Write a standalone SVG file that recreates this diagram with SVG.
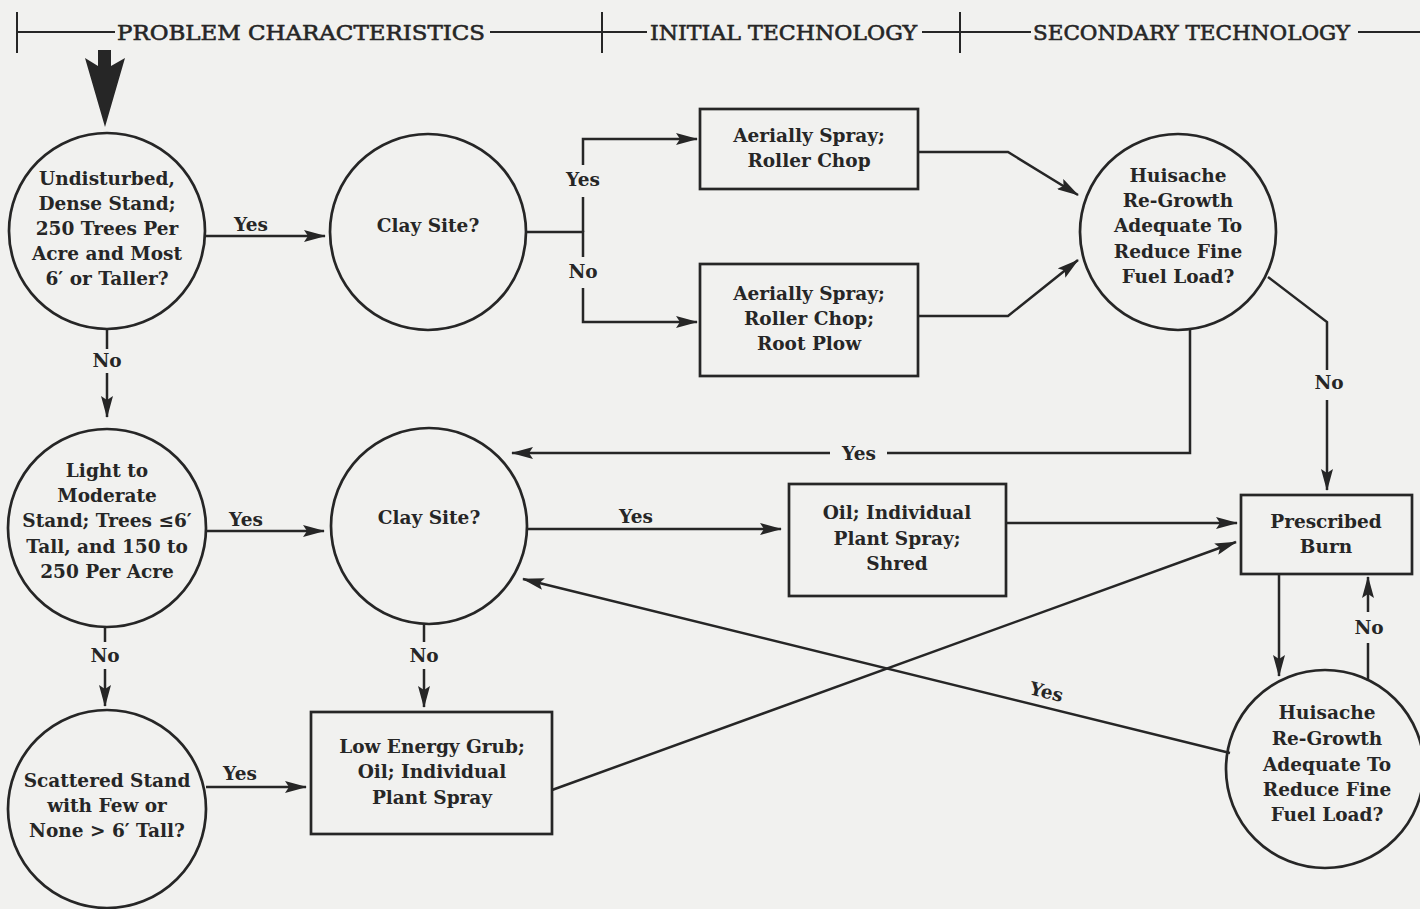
<svg xmlns="http://www.w3.org/2000/svg" width="1420" height="909" viewBox="0 0 1420 909">
<style>
.bg{fill:#f1f1ef}
.node{fill:none;stroke:#262626;stroke-width:2.7}
.ln{fill:none;stroke:#262626;stroke-width:2.5}
.hd{fill:none;stroke:#262626;stroke-width:2}
.t{font-family:"DejaVu Serif","Liberation Serif",serif;font-weight:bold;font-size:18.5px;fill:#262626;text-anchor:middle}
.h{font-family:"DejaVu Serif","Liberation Serif",serif;font-size:21px;fill:#262626;stroke:#262626;stroke-width:0.6;text-anchor:middle}
</style>
<defs>
<marker id="ah" viewBox="0 0 22 12" refX="21" refY="6" markerWidth="22" markerHeight="12" markerUnits="userSpaceOnUse" orient="auto">
<path d="M0,0 L22,6 L0,12 L4,6 Z" fill="#262626"/>
</marker>
</defs>
<rect class="bg" x="0" y="0" width="1420" height="909"/>

<g id="header">
<line class="hd" x1="17" y1="12" x2="17" y2="53"/>
<line class="hd" x1="17" y1="32" x2="115" y2="32"/>
<text class="h" x="301" y="40" textLength="368" lengthAdjust="spacingAndGlyphs">PROBLEM CHARACTERISTICS</text>
<line class="hd" x1="490" y1="32" x2="647" y2="32"/>
<line class="hd" x1="602" y1="12" x2="602" y2="53"/>
<text class="h" x="783.5" y="40" textLength="267" lengthAdjust="spacingAndGlyphs">INITIAL TECHNOLOGY</text>
<line class="hd" x1="922" y1="32" x2="1031" y2="32"/>
<line class="hd" x1="960" y1="12" x2="960" y2="53"/>
<text class="h" x="1191.5" y="40" textLength="317" lengthAdjust="spacingAndGlyphs">SECONDARY TECHNOLOGY</text>
<line class="hd" x1="1358" y1="32" x2="1420" y2="32"/>
</g>

<g id="start-arrow">
<polygon points="98,50 111,50 111,66 125,58 105,127 85,58 98,66" fill="#262626"/>
</g>

<g id="c1">
<circle class="node" cx="107" cy="231" r="98"/>
<text class="t" x="107" y="185">Undisturbed,</text>
<text class="t" x="107" y="210">Dense Stand;</text>
<text class="t" x="107" y="235">250 Trees Per</text>
<text class="t" x="107" y="260">Acre and Most</text>
<text class="t" x="107" y="285">6′ or Taller?</text>
</g>

<g id="c2">
<circle class="node" cx="107" cy="528" r="99"/>
<text class="t" x="107" y="477">Light to</text>
<text class="t" x="107" y="502">Moderate</text>
<text class="t" x="107" y="527">Stand; Trees ≤6′</text>
<text class="t" x="107" y="553">Tall, and 150 to</text>
<text class="t" x="107" y="578">250 Per Acre</text>
</g>

<g id="c3">
<circle class="node" cx="107" cy="809" r="99"/>
<text class="t" x="107" y="787">Scattered Stand</text>
<text class="t" x="107" y="812">with Few or</text>
<text class="t" x="107" y="837">None &gt; 6′ Tall?</text>
</g>

<g id="clay1">
<circle class="node" cx="428" cy="232" r="98"/>
<text class="t" x="428" y="232">Clay Site?</text>
</g>

<g id="clay2">
<circle class="node" cx="429" cy="526" r="98"/>
<text class="t" x="429" y="524">Clay Site?</text>
</g>

<g id="boxA">
<rect class="node" x="700" y="109" width="218" height="80"/>
<text class="t" x="809" y="142">Aerially Spray;</text>
<text class="t" x="809" y="167">Roller Chop</text>
</g>

<g id="boxB">
<rect class="node" x="700" y="264" width="218" height="112"/>
<text class="t" x="809" y="300">Aerially Spray;</text>
<text class="t" x="809" y="325">Roller Chop;</text>
<text class="t" x="809" y="350">Root Plow</text>
</g>

<g id="boxC">
<rect class="node" x="789" y="484" width="217" height="112"/>
<text class="t" x="897" y="519">Oil; Individual</text>
<text class="t" x="897" y="545">Plant Spray;</text>
<text class="t" x="897" y="570">Shred</text>
</g>

<g id="boxD">
<rect class="node" x="311" y="712" width="241" height="122"/>
<text class="t" x="432" y="753">Low Energy Grub;</text>
<text class="t" x="432" y="778">Oil; Individual</text>
<text class="t" x="432" y="804">Plant Spray</text>
</g>

<g id="h1">
<circle class="node" cx="1178" cy="232" r="98"/>
<text class="t" x="1178" y="182">Huisache</text>
<text class="t" x="1178" y="207">Re-Growth</text>
<text class="t" x="1178" y="232">Adequate To</text>
<text class="t" x="1178" y="258">Reduce Fine</text>
<text class="t" x="1178" y="283">Fuel Load?</text>
</g>

<g id="burn">
<rect class="node" x="1241" y="495" width="171" height="79"/>
<text class="t" x="1326" y="528">Prescribed</text>
<text class="t" x="1326" y="553">Burn</text>
</g>

<g id="h2">
<circle class="node" cx="1325" cy="769" r="99"/>
<text class="t" x="1327" y="719">Huisache</text>
<text class="t" x="1327" y="745">Re-Growth</text>
<text class="t" x="1327" y="771">Adequate To</text>
<text class="t" x="1327" y="796">Reduce Fine</text>
<text class="t" x="1327" y="821">Fuel Load?</text>
</g>

<g id="connectors">
<line class="ln" x1="205" y1="236" x2="325" y2="236" marker-end="url(#ah)"/>
<text class="t" x="251" y="231">Yes</text>
<line class="ln" x1="107" y1="329" x2="107" y2="349"/>
<text class="t" x="107" y="367">No</text>
<line class="ln" x1="107" y1="373" x2="107" y2="417" marker-end="url(#ah)"/>

<polyline class="ln" points="526,232 583,232 583,257"/>
<polyline class="ln" points="583,197 583,232"/>
<polyline class="ln" points="583,165 583,139 697,139" marker-end="url(#ah)"/>
<polyline class="ln" points="583,288 583,322 697,322" marker-end="url(#ah)"/>
<text class="t" x="583" y="186">Yes</text>
<text class="t" x="583" y="278">No</text>

<polyline class="ln" points="918,152 1008,152 1078,195" marker-end="url(#ah)"/>
<polyline class="ln" points="918,316 1008,316 1078,260" marker-end="url(#ah)"/>

<polyline class="ln" points="1268,277 1327,322 1327,370"/>
<text class="t" x="1329" y="389">No</text>
<line class="ln" x1="1327" y1="400" x2="1327" y2="490" marker-end="url(#ah)"/>

<polyline class="ln" points="1190,330 1190,453 887,453"/>
<text class="t" x="859" y="460">Yes</text>
<line class="ln" x1="830" y1="453" x2="512" y2="453" marker-end="url(#ah)"/>

<line class="ln" x1="527" y1="529" x2="781" y2="529" marker-end="url(#ah)"/>
<text class="t" x="636" y="523">Yes</text>

<line class="ln" x1="1006" y1="523" x2="1237" y2="523" marker-end="url(#ah)"/>
<line class="ln" x1="552" y1="790" x2="1236" y2="542" marker-end="url(#ah)"/>
<line class="ln" x1="1230" y1="753" x2="523" y2="579" marker-end="url(#ah)"/>
<text class="t" x="1045" y="698" transform="rotate(14 1045 698)">Yes</text>

<line class="ln" x1="1279" y1="574" x2="1279" y2="676" marker-end="url(#ah)"/>
<line class="ln" x1="1368" y1="681" x2="1368" y2="643"/>
<text class="t" x="1369" y="634">No</text>
<line class="ln" x1="1368" y1="612" x2="1368" y2="577" marker-end="url(#ah)"/>

<line class="ln" x1="206" y1="531" x2="324" y2="531" marker-end="url(#ah)"/>
<text class="t" x="246" y="526">Yes</text>
<line class="ln" x1="105" y1="627" x2="105" y2="642"/>
<text class="t" x="105" y="662">No</text>
<line class="ln" x1="105" y1="669" x2="105" y2="706" marker-end="url(#ah)"/>

<line class="ln" x1="424" y1="624" x2="424" y2="642"/>
<text class="t" x="424" y="662">No</text>
<line class="ln" x1="424" y1="669" x2="424" y2="707" marker-end="url(#ah)"/>

<line class="ln" x1="206" y1="787" x2="306" y2="787" marker-end="url(#ah)"/>
<text class="t" x="240" y="780">Yes</text>
</g>
</svg>
